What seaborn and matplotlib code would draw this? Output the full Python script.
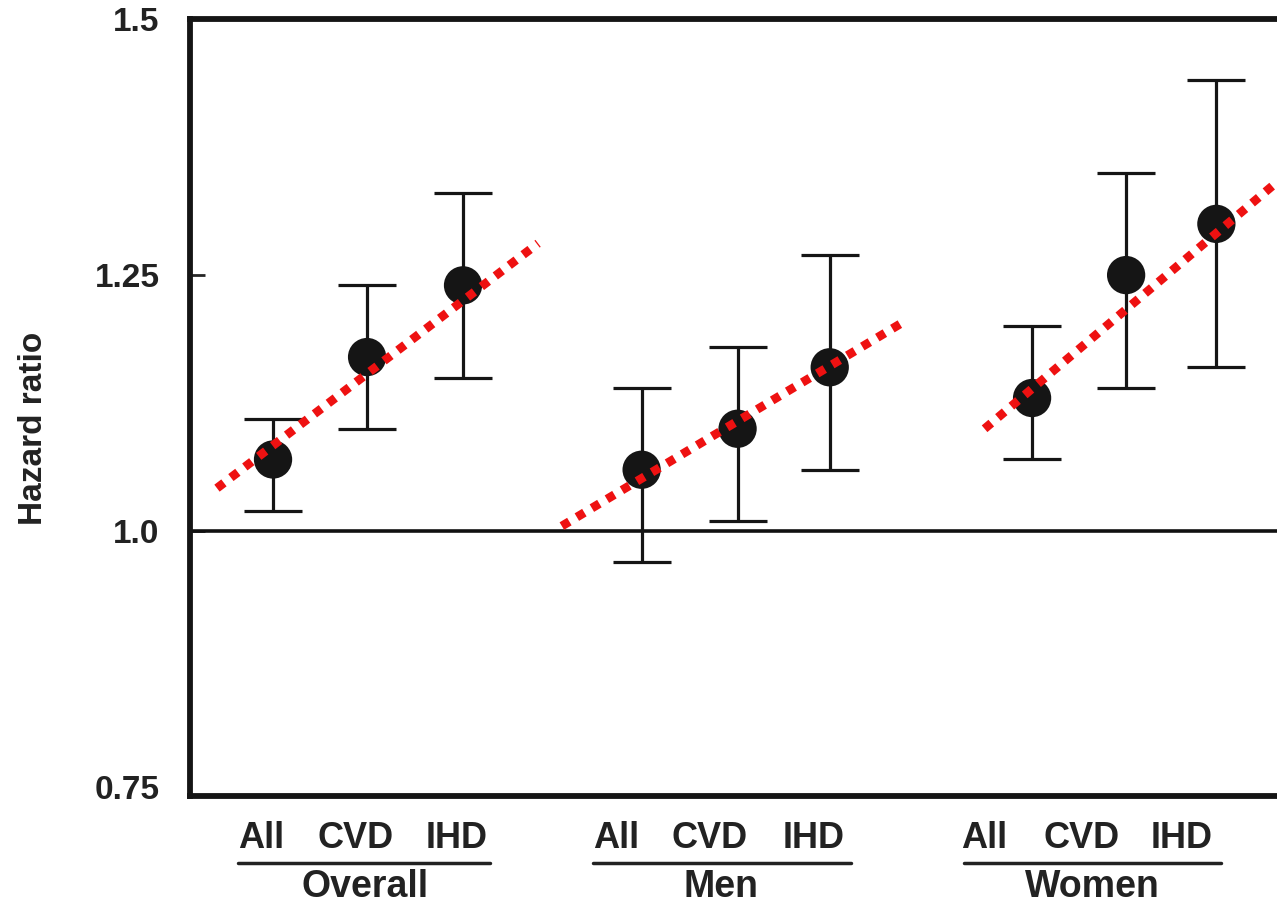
import numpy as np
import pandas as pd
import matplotlib
matplotlib.use("Agg")
import matplotlib.pyplot as plt
import matplotlib.transforms as mtransforms
import seaborn as sns

# Data
groups = ["Overall", "Men", "Women"]
outcomes = ["All", "CVD", "IHD"]
x_pos = [0.0, 0.99, 2.0, 3.88, 4.89, 5.86, 7.99, 8.98, 9.93]
hr = [1.07, 1.17, 1.24, 1.06, 1.10, 1.16, 1.13, 1.25, 1.30]
ci_low = [1.02, 1.10, 1.15, 0.97, 1.01, 1.06, 1.07, 1.14, 1.16]
ci_high = [1.11, 1.24, 1.33, 1.14, 1.18, 1.27, 1.20, 1.35, 1.44]

# red dotted trend lines (start/end per group)
trend_x0 = [-0.59, 3.04, 7.49]
trend_y0 = [1.042, 1.005, 1.100]
trend_x1 = [2.79, 6.65, 10.57]
trend_y1 = [1.281, 1.205, 1.341]

y_ticks = [0.75, 1.0, 1.25, 1.5]
y_ticklabels = ["0.75", "1.0", "1.25", "1.5"]

df = pd.DataFrame({"x": x_pos, "hr": hr, "lo": ci_low, "hi": ci_high})

sns.set_style("white")
plt.rcParams["font.family"] = ["Liberation Sans", "DejaVu Sans"]
plt.rcParams["font.weight"] = "bold"

W, H = 1277, 910
fig = plt.figure(figsize=(W / 100, H / 100), dpi=100)
# axes in pixels: left 190, right beyond the picture, top 19, bottom 796
ax = fig.add_axes([190 / W, (H - 796) / H, (1290 - 190) / W, (796 - 19) / H])

ax.axhline(1.0, color="#111111", lw=2.6, zorder=1)

# trend lines
for x0, y0, x1, y1 in zip(trend_x0, trend_y0, trend_x1, trend_y1):
    ax.plot([x0, x1], [y0, y1], color="#ee1111", lw=6.3, linestyle=(0, (1, 1.0)),
            dash_capstyle="butt", zorder=4)

# confidence intervals
ax.errorbar(df["x"], df["hr"], yerr=[df["hr"] - df["lo"], df["hi"] - df["hr"]],
            fmt="none", ecolor="#151515", elinewidth=2.3, capsize=21, capthick=2.3, zorder=2)
sns.scatterplot(data=df, x="x", y="hr", ax=ax, s=760, color="#151515",
                edgecolor="none", zorder=3, legend=False)

ax.set_xlim(-0.874, 10.705)
ax.set_ylim(0.7415, 1.4995)
ax.set_yticks(y_ticks)
ax.set_yticklabels(y_ticklabels, fontsize=24, fontweight="bold", color="#222222")
ax.set_xticks([])
ax.tick_params(axis="y", direction="in", length=11, width=2, pad=22, left=True)
ax.set_xlabel("")
ax.set_ylabel("")
# no tick marks where they fall on the spines
yt = ax.yaxis.get_major_ticks()
for t in (yt[0], yt[-1]):
    t.tick1line.set_visible(False)

for side in ["left", "top", "bottom", "right"]:
    ax.spines[side].set_linewidth(4.2)
    ax.spines[side].set_color("#151515")

# y label
fig.text(34 / W, 1 - 428 / H, "Hazard ratio", rotation=90, ha="center", va="center",
         fontsize=24, fontweight="bold", color="#222222")

# x category labels, underlines and group names
trans = mtransforms.blended_transform_factory(ax.transData, fig.transFigure)
label_shift = [-0.13, -0.12, -0.07, -0.27, -0.30, -0.17, -0.50, -0.47, -0.37]
group_center = [0.97, 4.72, 8.62]
underline_span = [(-0.37, 2.28), (3.37, 6.08), (7.27, 9.98)]
for i, x in enumerate(x_pos):
    ax.text(x + label_shift[i], 1 - 838 / H, outcomes[i % 3], transform=trans,
            ha="center", va="center", fontsize=26, fontweight="bold", color="#222222")
for g, c, (u0, u1) in zip(groups, group_center, underline_span):
    ax.plot([u0, u1], [1 - 863 / H, 1 - 863 / H], transform=trans, color="#222222",
            lw=2.5, clip_on=False)
    ax.text(c, 1 - 887 / H, g, transform=trans, ha="center", va="center",
            fontsize=27, fontweight="bold", color="#222222")

fig.savefig("out.png", dpi=100)
